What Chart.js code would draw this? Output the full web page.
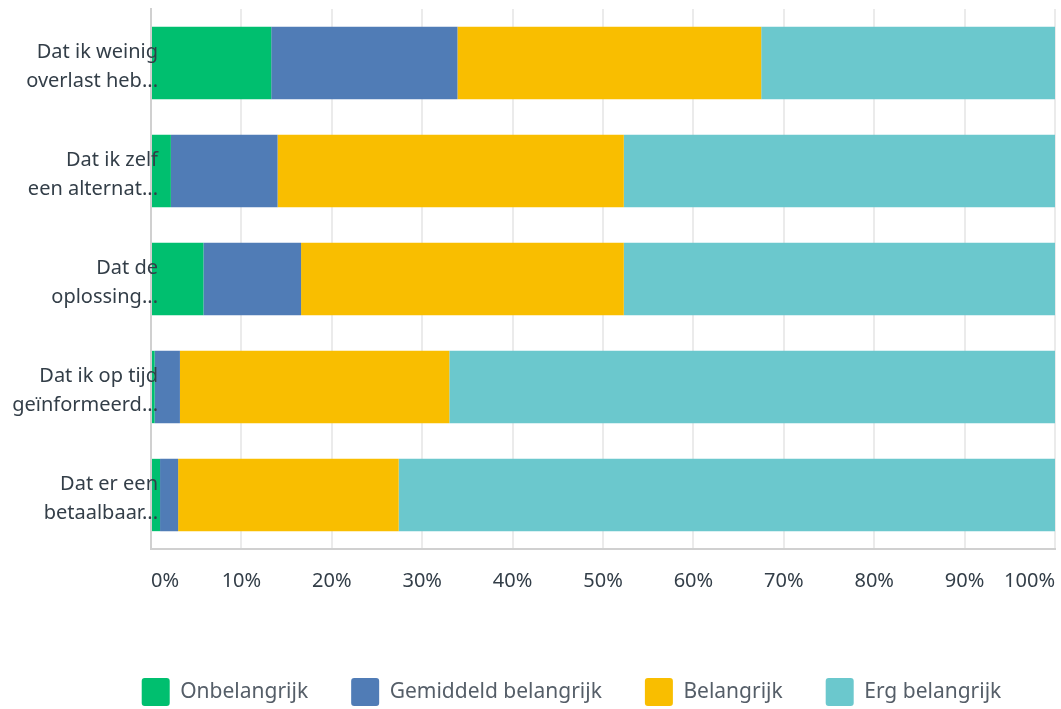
<!DOCTYPE html>
<html>
<head>
<meta charset="utf-8">
<script src="https://cdn.jsdelivr.net/npm/chart.js@4"></script>
<style>
  html, body { margin: 0; padding: 0; background: #ffffff; }
  #wrap { width: 1061px; height: 709px; }
</style>
</head>
<body>
<div id="wrap"><canvas id="grafiek" width="1061" height="709"></canvas></div>
<script>
// Stellingen (y-as), afgekapt zoals in het origineel
const stellingen = [
    ['Dat ik weinig', 'overlast heb...'],
    ['Dat ik zelf', 'een alternat...'],
    ['Dat de', 'oplossing...'],
    ['Dat ik op tijd', 'geïnformeerd...'],
    ['Dat er een', 'betaalbaar...']
];

// Percentages per antwoordcategorie
const onbelangrijk = [13.3, 2.2, 5.8, 0.4, 1.0];
const gemiddeld = [20.6, 11.8, 10.8, 2.8, 2.0];
const belangrijk = [33.6, 38.3, 35.7, 29.8, 24.4];
const ergBelangrijk = [32.5, 47.7, 47.7, 67.0, 72.6];

const xTicks = [0, 10, 20, 30, 40, 50, 60, 70, 80, 90, 100];

const fontFam = "'Noto Sans', sans-serif";

// legenda iets naar rechts schuiven, zoals in het origineel
const legendaVerschuiving = {
    id: 'legendaVerschuiving',
    beforeInit(chart) {
        const origDraw = chart.legend.draw;
        chart.legend.draw = function () {
            const c = this.ctx;
            c.save();
            c.translate(44, 0);
            origDraw.call(this);
            c.restore();
        };
    }
};

const ctx = document.getElementById('grafiek').getContext('2d');
new Chart(ctx, {
    type: 'bar',
    data: {
        labels: stellingen,
        datasets: [
            { label: 'Onbelangrijk', data: onbelangrijk, backgroundColor: '#00bf6f' },
            { label: 'Gemiddeld belangrijk', data: gemiddeld, backgroundColor: '#507cb6' },
            { label: 'Belangrijk', data: belangrijk, backgroundColor: '#f9be00' },
            { label: 'Erg belangrijk', data: ergBelangrijk, backgroundColor: '#6bc8cd' }
        ]
    },
    options: {
        indexAxis: 'y',
        responsive: false,
        animation: false,
        layout: { padding: { top: 9, right: 6, bottom: -7, left: 0 } },
        datasets: { bar: { barPercentage: 0.67, categoryPercentage: 1.0 } },
        scales: {
            x: {
                stacked: true,
                min: 0,
                max: 100,
                afterBuildTicks: (as) => { as.ticks = xTicks.map(v => ({ value: v })); },
                afterFit: (as) => {
                    as.paddingLeft = 0;
                    as.paddingRight = 0;
                    as.height += 22;
                },
                ticks: {
                    align: 'inner',
                    padding: 20,
                    color: '#333e48',
                    font: { family: fontFam, size: 20 },
                    callback: (v) => v + '%'
                },
                grid: { color: '#ebebeb', lineWidth: 2, drawTicks: false },
                border: { color: '#d0d0d0', width: 2 }
            },
            y: {
                stacked: true,
                afterFit: (as) => {
                    as.width = 151;
                    as.paddingTop = 0;
                    as.paddingBottom = 0;
                    if (!as._aangepast) {
                        // labels mogen over de balken heen lopen
                        as._aangepast = true;
                        as._computeLabelArea = () => undefined;
                        const origLabels = as.drawLabels;
                        as.drawLabels = function (area) {
                            this.ctx.save();
                            this.ctx.translate(0, 4);
                            origLabels.call(this, area);
                            this.ctx.restore();
                        };
                    }
                },
                ticks: {
                    z: 1,
                    padding: -7,
                    color: '#333e48',
                    font: { family: fontFam, size: 20, lineHeight: 1.45 }
                },
                grid: { display: false, drawTicks: false },
                border: { color: '#d0d0d0', width: 2 }
            }
        },
        plugins: {
            legend: {
                position: 'bottom',
                labels: {
                    boxWidth: 28,
                    boxHeight: 28,
                    useBorderRadius: true,
                    borderRadius: 3,
                    padding: 43,
                    color: '#555e68',
                    font: { family: fontFam, size: 21 }
                }
            },
            tooltip: { enabled: false }
        }
    },
    plugins: [legendaVerschuiving]
});
</script>
</body>
</html>
